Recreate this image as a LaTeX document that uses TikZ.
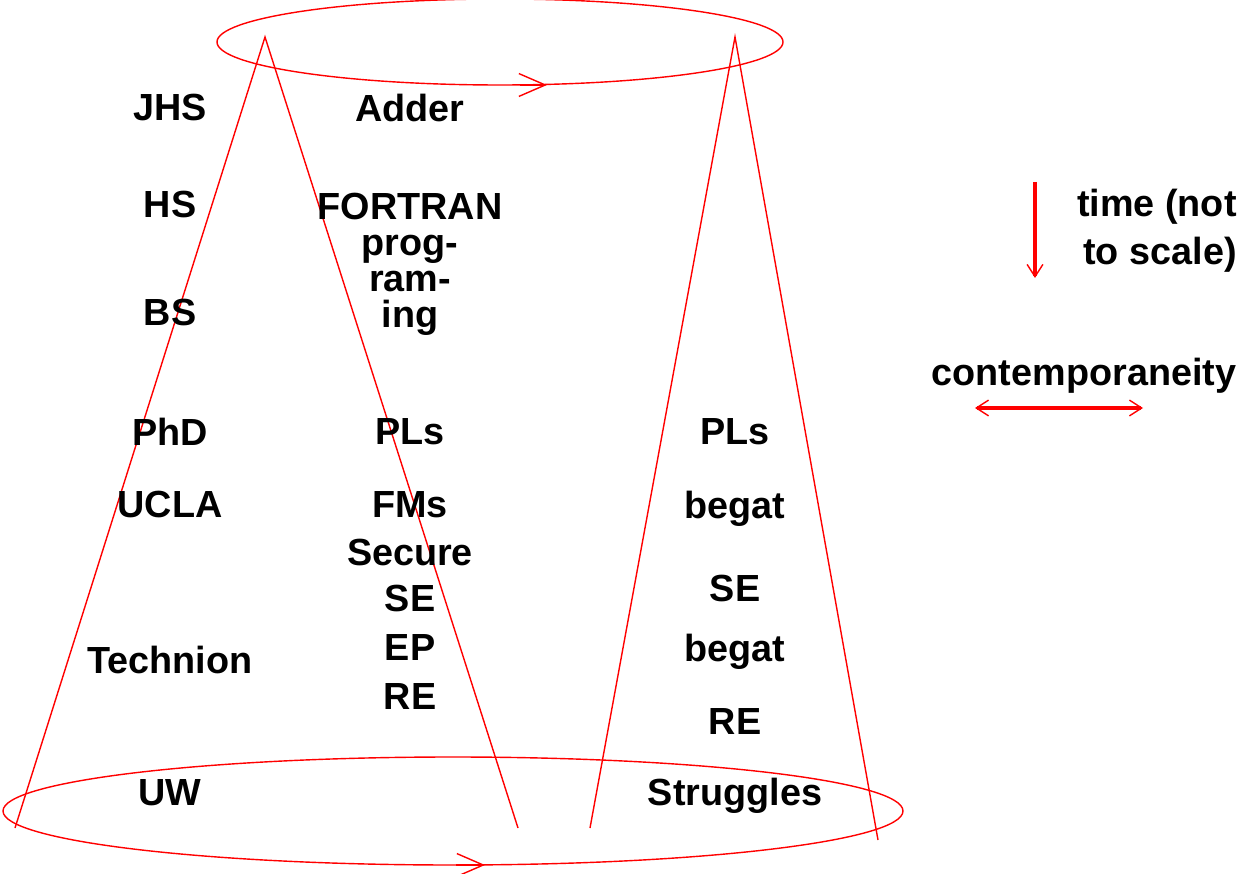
\documentclass[tikz,border=0pt]{standalone}
\usepackage{fontspec}
\setmainfont{Liberation Sans}
\usetikzlibrary{arrows.meta, positioning}
\tikzset{lbl/.style={font=\bfseries\fontsize{21.5}{20.5}\selectfont, inner sep=0pt, align=center},
  cone/.style={red, line width=0.8pt},
  flow/.style={red, line width=0.8pt, -{Straight Barb[length=15pt,width=13pt]}},
  legend/.style={red, line width=2.6pt},
  tip/.tip={Straight Barb[length=7pt,width=9pt,line width=0.8pt]}}

\begin{document}
\begin{tikzpicture}[x=0.02cm, y=-0.02cm]
    \useasboundingbox (0,0) rectangle (1240,874);
    % the two rings and the cones between them
    \draw[cone] (500,42) ellipse (283 and 43);
    \draw[cone] (453,811) ellipse (450 and 54);
    \coordinate (top-a) at (265,37);
    \coordinate (top-b) at (735,37);
    \draw[cone] (15,828) -- (top-a) -- (518,828);
    \draw[cone] (590,828) -- (top-b) -- (878,840);
    \coordinate (ring-1) at (520,85);
    \coordinate (ring-2) at (547,85);
    \draw[flow] (ring-1) -- (ring-2);
    \coordinate (ring-3) at (456,865);
    \coordinate (ring-4) at (485,865);
    \draw[flow] (ring-3) -- (ring-4);

    % left column
    \node[lbl] (jhs) at (170,108) {JHS};
    \node[lbl] (hs) at (170,204) {HS};
    \node[lbl] (bs) at (170,312) {BS};
    \node[lbl] (phd) at (170,432) {PhD};
    \node[lbl] (ucla) at (170,504) {UCLA};
    \node[lbl] (technion) at (170,660) {Technion};
    \node[lbl] (uw) at (170,793) {UW};

    % middle column
    \node[lbl] (adder) at (410,108) {Adder};
    \node[lbl] (fortran) at (410,264) {FORTRAN\\prog-\\ram-\\ing};
    \node[lbl] (pls-a) at (410,432) {PLs};
    \node[lbl] (fms) at (410,505) {FMs};
    \node[lbl] (secure) at (410,552) {Secure};
    \node[lbl] (se-a) at (410,598) {SE};
    \node[lbl] (ep) at (410,648) {EP};
    \node[lbl] (re-a) at (410,697) {RE};

    % right column
    \node[lbl] (pls-b) at (735,432) {PLs};
    \node[lbl] (begat-a) at (735,509) {begat};
    \node[lbl] (se-b) at (735,588) {SE};
    \node[lbl] (begat-b) at (735,652) {begat};
    \node[lbl] (re-b) at (735,722) {RE};
    \node[lbl] (struggles) at (735,796) {Struggles};

    % legend
    \coordinate (time-1) at (1035,182);
    \coordinate (time-2) at (1035,278);
    \draw[legend, -tip] (time-1) -- (time-2);
    \node[lbl, anchor=east] (time) at (1237,207) {time (not};
    \node[lbl, below=27pt of time.east, anchor=east] (scale) {to scale)};
    \node[lbl] (contemp) at (1084,376) {contemporaneity};
    \coordinate (cont-1) at (975,408);
    \coordinate (cont-2) at (1143,408);
    \draw[legend, tip-tip] (cont-1) -- (cont-2);
\end{tikzpicture}
\end{document}
